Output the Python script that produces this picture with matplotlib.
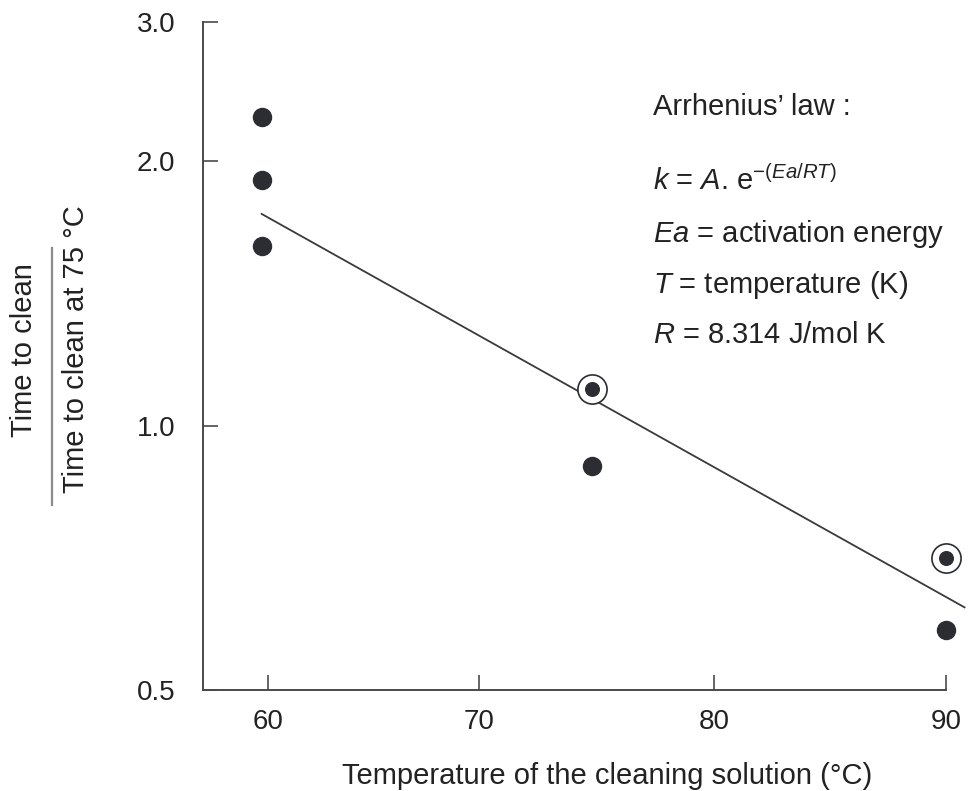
import numpy as np
import matplotlib
matplotlib.use("Agg")
import matplotlib.pyplot as plt
from matplotlib.lines import Line2D
from matplotlib.ticker import FixedLocator, FixedFormatter, NullLocator

# --- Data ---
temp_dots = [59.7, 59.7, 59.7, 74.8, 90.0]
ratio_dots = [2.27, 1.90, 1.60, 0.90, 0.585]
temp_ringed = [74.8, 90.0]
ratio_ringed = [1.10, 0.707]
fit_temp = [59.7, 90.8]
fit_ratio = [1.74, 0.621]

x_ticks = [60, 70, 80, 90]
y_ticks = [0.5, 1.0, 2.0, 3.0]
y_tick_labels = ["0.5", "1.0", "2.0", "3.0"]

# The original axes are hand-drawn, tick spacing is not quite even.
x_knots = [60, 70, 80, 90]
x_spacing = [0, 211, 446, 678]
y_knots = [-1.0, 0.0, 1.0, np.log2(3.0)]
y_spacing = [0, 264.3, 529.3, 668]


def interp_ext(v, xp, fp):
    v = np.asarray(v, dtype=float)
    out = np.interp(v, xp, fp)
    lo = v < xp[0]
    hi = v > xp[-1]
    out = np.where(lo, fp[0] + (v - xp[0]) * (fp[1] - fp[0]) / (xp[1] - xp[0]), out)
    out = np.where(hi, fp[-1] + (v - xp[-1]) * (fp[-1] - fp[-2]) / (xp[-1] - xp[-2]), out)
    return out


def x_fwd(v):
    return interp_ext(v, x_knots, x_spacing)


def x_inv(p):
    return interp_ext(p, x_spacing, x_knots)


def y_fwd(v):
    v = np.clip(np.asarray(v, dtype=float), 1e-6, None)
    return interp_ext(np.log2(v), y_knots, y_spacing)


def y_inv(p):
    return 2.0 ** interp_ext(p, y_spacing, y_knots)


plt.rcParams["font.family"] = ["Liberation Sans", "DejaVu Sans"]
plt.rcParams["mathtext.fontset"] = "custom"
plt.rcParams["mathtext.rm"] = "Liberation Sans"
plt.rcParams["mathtext.it"] = "Liberation Sans:italic"

W, H = 968, 791
fig = plt.figure(figsize=(W / 100, H / 100), dpi=100)


def fpos(x, y):
    return x / W, 1 - y / H


ax = fig.add_axes([203 / W, 1 - 690 / H, (946 - 203) / W, (690 - 22) / H])
ax.set_xscale("function", functions=(x_fwd, x_inv))
ax.set_yscale("function", functions=(y_fwd, y_inv))
ax.set_xlim(60 - 65 / 21.1, 90)
ax.set_ylim(0.5, 3.0)

ink = "#2b2d33"
axis_col = "#4a4a4a"
txt_col = "#222222"

ax.plot(fit_temp, fit_ratio, color="#3a3a3a", lw=1.3, zorder=2, clip_on=False)
ax.plot(temp_dots, ratio_dots, "o", color=ink, ms=13, zorder=3, clip_on=False)
ax.plot(temp_ringed, ratio_ringed, "o", mfc="white", mec=ink, mew=1.2,
        ms=21, zorder=3, clip_on=False)
ax.plot(temp_ringed, ratio_ringed, "o", color=ink, ms=9.8, zorder=4, clip_on=False)

for s in ["top", "right"]:
    ax.spines[s].set_visible(False)
for s in ["left", "bottom"]:
    ax.spines[s].set_color(axis_col)
    ax.spines[s].set_linewidth(1.4)

ax.xaxis.set_major_locator(FixedLocator(x_ticks))
ax.xaxis.set_minor_locator(NullLocator())
ax.yaxis.set_major_locator(FixedLocator(y_ticks))
ax.yaxis.set_major_formatter(FixedFormatter(y_tick_labels))
ax.yaxis.set_minor_locator(NullLocator())
ax.tick_params(axis="both", direction="in", length=10.8, width=1.2,
               color=axis_col, labelsize=20, labelcolor=txt_col)
ax.tick_params(axis="x", pad=14)
ax.tick_params(axis="y", pad=20)

fig.text(*fpos(607, 776), "Temperature of the cleaning solution (\u00b0C)",
         ha="center", va="center", fontsize=21, color=txt_col)

# y label drawn as a fraction
fig.text(*fpos(24, 437), "Time to clean", rotation=90, ha="center", va="bottom",
         fontsize=21, color=txt_col)
fig.text(*fpos(76, 493), "Time to clean at 75 \u00b0C", rotation=90, ha="center",
         va="bottom", fontsize=21, color=txt_col)
x0, y0 = fpos(52, 248)
x1, y1 = fpos(52, 505)
fig.add_artist(Line2D([x0, x1], [y0, y1], transform=fig.transFigure,
                      color="#8c8c8c", lw=1.6))

# Arrhenius annotation
notes = [
    "Arrhenius\u2019 law :",
    r"$\mathit{k}$ = $\mathit{A}$. e$^{\mathit{-(Ea/RT)}}$",
    r"$\mathit{Ea}$ = activation energy",
    r"$\mathit{T}$ = temperature (K)",
    r"$\mathit{R}$ = 8.314 J/mol K",
]
baselines = [115, 190, 242, 293, 343]
for txt, yb in zip(notes, baselines):
    fig.text(*fpos(653, yb), txt, ha="left", va="baseline", fontsize=21,
             color=txt_col)

fig.savefig("out.png", dpi=100, facecolor="white")
